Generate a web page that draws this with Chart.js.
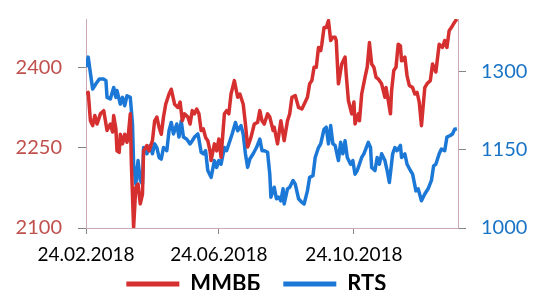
<!DOCTYPE html>
<html>
<head>
<meta charset="utf-8">
<script src="https://cdn.jsdelivr.net/npm/chart.js@4.4.1/dist/chart.umd.min.js"></script>
<style>
  html, body { margin: 0; padding: 0; background: #fff; }
  #wrap { width: 534px; height: 290px; }
</style>
</head>
<body>
<div id="wrap"><canvas id="c" width="534" height="290"></canvas></div>
<script>
// x = days since 24.02.2018
const tickDays = [0, 120, 242];
const tickLabels = ['24.02.2018', '24.06.2018', '24.10.2018'];

const mmvbDays = [0,2,4,6,8,10,13,16,19,22,24,25,27,28,30,31,33,35,37,38,40,41,43,45,47,49,51,52,55,57,60,62,64,66,68,70,72,75,77,80,83,85,87,89,92,94,96,98,100,102,104,106,108,110,112,113,116,118,120,122,125,127,129,131,134,137,139,142,144,146,149,152,155,157,159,161,164,166,169,170,173,176,179,182,184,186,189,192,195,198,200,202,204,206,208,210,212,213,215,217,219,221,223,225,226,228,231,234,235,237,240,242,243,246,247,249,252,254,256,258,260,262,264,267,270,271,273,275,276,278,280,282,284,285,288,290,292,295,297,299,301,303,306,308,311,313,316,319,322,324,326,328,330,332,334,335];
const mmvb = [2350,2353,2300,2291,2310,2294,2313,2319,2282,2294,2279,2310,2285,2244,2241,2275,2257,2275,2260,2269,2313,2219,2101,2176,2182,2145,2163,2244,2254,2244,2263,2300,2307,2288,2275,2307,2331,2350,2359,2331,2325,2335,2300,2313,2307,2294,2319,2313,2322,2313,2282,2285,2269,2263,2244,2226,2257,2244,2266,2232,2313,2319,2313,2350,2375,2344,2350,2331,2294,2251,2269,2294,2297,2319,2300,2294,2313,2307,2282,2288,2257,2300,2263,2300,2313,2344,2347,2325,2322,2335,2344,2369,2375,2400,2400,2437,2431,2443,2474,2474,2487,2450,2456,2456,2450,2369,2406,2419,2387,2338,2313,2335,2294,2313,2300,2350,2381,2400,2446,2406,2400,2381,2378,2369,2344,2362,2338,2313,2356,2394,2400,2443,2440,2412,2419,2384,2366,2362,2350,2353,2335,2291,2362,2369,2375,2406,2391,2443,2437,2450,2437,2468,2474,2481,2487,2490];

const rtsDays = [0,2,6,9,12,16,18,19,22,25,27,28,31,33,35,37,40,42,43,45,47,49,51,52,55,58,60,62,64,66,68,70,73,75,77,79,82,84,86,88,91,94,96,98,101,102,104,106,108,110,113,116,118,120,122,125,127,130,132,135,137,140,142,144,146,148,151,154,157,159,161,164,166,167,170,172,174,176,178,179,182,184,187,189,192,195,197,200,202,205,207,210,212,215,217,219,221,223,225,228,230,232,234,236,239,241,243,245,246,249,251,255,257,258,261,263,265,267,270,272,274,277,279,281,284,285,288,290,293,295,298,300,303,306,309,312,314,316,319,321,324,326,329,331,333,335];
const rts = [1308,1327,1266,1276,1285,1285,1282,1250,1247,1269,1250,1263,1237,1250,1234,1253,1250,1199,1122,1084,1129,1091,1084,1154,1142,1158,1142,1161,1154,1135,1132,1154,1148,1186,1202,1180,1199,1174,1205,1174,1170,1161,1167,1174,1180,1170,1145,1142,1148,1110,1097,1129,1116,1129,1122,1154,1148,1167,1180,1202,1186,1196,1180,1142,1116,1132,1142,1154,1170,1148,1148,1145,1103,1059,1078,1056,1059,1052,1075,1046,1075,1078,1091,1084,1056,1049,1046,1071,1097,1100,1135,1154,1161,1189,1193,1161,1196,1161,1158,1129,1164,1142,1167,1135,1122,1129,1103,1110,1116,1135,1142,1164,1154,1116,1110,1135,1122,1142,1129,1110,1087,1142,1154,1148,1158,1135,1142,1122,1110,1103,1071,1075,1052,1065,1075,1091,1119,1122,1142,1151,1148,1174,1177,1180,1189,1190];

const leftTicks = [2100, 2250, 2400];
const rightTicks = [1000, 1150, 1300];

const RED = '#D62F2F';
const BLUE = '#1C78D6';
const AXIS = '#CDAAB3';
const TICK = '#868686';

const toPts = (xs, ys) => xs.map((d, i) => ({ x: d, y: ys[i] }));
// no label overflow padding, the plot area is fixed by layout
const noPad = s => { s.paddingTop = 0; s.paddingBottom = 0; };
const NB = n => '\u00A0'.repeat(n);

new Chart(document.getElementById('c'), {
  type: 'line',
  data: {
    datasets: [
      { label: 'ММВБ', data: toPts(mmvbDays, mmvb), yAxisID: 'yL', borderColor: RED, backgroundColor: RED,
        borderWidth: 3.5, pointRadius: 0, tension: 0, borderJoinStyle: 'round' },
      { label: 'RTS', data: toPts(rtsDays, rts), yAxisID: 'yR', borderColor: BLUE, backgroundColor: BLUE,
        borderWidth: 3.5, pointRadius: 0, tension: 0, borderJoinStyle: 'round' }
    ]
  },
  options: {
    responsive: false, animation: false,
    layout: { padding: { top: 19, left: 0, right: 0, bottom: -15 } },
    plugins: {
      tooltip: { enabled: false },
      legend: {
        position: 'bottom',
        labels: {
          color: '#000', font: { family: "Lato, 'Open Sans', sans-serif", size: 22, weight: 'bold' },
          boxWidth: 53, boxHeight: 5, padding: 7,
          generateLabels: ch => ch.data.datasets.map((ds, i) => ({
            // trailing spaces widen the gaps so the row sits like the original
            text: ds.label + NB(i === 0 ? 3 : 4),
            fillStyle: ds.borderColor, strokeStyle: ds.borderColor, lineWidth: 0,
            fontColor: '#000', datasetIndex: i, hidden: false
          }))
        }
      }
    },
    scales: {
      x: {
        type: 'linear', min: 0, max: 336,
        afterBuildTicks: s => { s.ticks = tickDays.map(v => ({ value: v })); },
        afterFit: s => { s.height = 38; },
        ticks: { callback: (v, i) => tickLabels[i], color: '#000', padding: 9, maxRotation: 0, autoSkip: false,
          font: { family: 'Lato', size: 19 } },
        grid: { drawOnChartArea: false, tickLength: 6, tickColor: TICK },
        border: { color: AXIS, width: 1 }
      },
      yL: {
        position: 'left', min: 2100, max: 2490,
        afterBuildTicks: s => { s.ticks = leftTicks.map(v => ({ value: v })); },
        afterFit: s => { s.width = 86; noPad(s); },
        ticks: { callback: v => String(v), color: '#C0504D', padding: 16, font: { family: 'Lato', size: 20 } },
        grid: { drawOnChartArea: false, tickLength: 8, tickColor: TICK },
        border: { color: AXIS, width: 1 }
      },
      yR: {
        position: 'right', min: 1000, max: 1400,
        afterBuildTicks: s => { s.ticks = rightTicks.map(v => ({ value: v })); },
        afterFit: s => { s.width = 76; noPad(s); },
        ticks: { callback: v => String(v), color: '#1A74C6', padding: 15, font: { family: 'Lato', size: 20 } },
        grid: { drawOnChartArea: false, tickLength: 8, tickColor: TICK },
        border: { color: AXIS, width: 1 }
      }
    }
  }
});
</script>
</body>
</html>
